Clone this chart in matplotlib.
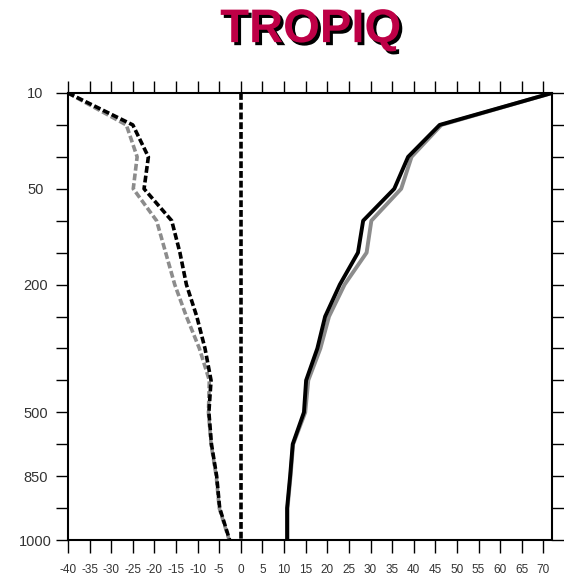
import matplotlib
matplotlib.use("Agg")
import matplotlib.pyplot as plt
import matplotlib.patheffects as pe

plt.rcParams['font.family'] = ['Liberation Sans', 'DejaVu Sans']

# pressure levels (hPa), plotted on an index axis from top to bottom
levels = [10, 20, 30, 50, 70, 100, 200, 250, 300, 400, 500, 700, 850, 925, 1000]
labeled_levels = [10, 50, 200, 500, 850, 1000]

dash_black = [-40, -25.0, -21.4, -22.4, -16.0, -14.1, -12.6, -10.2, -8.3, -6.9, -7.4, -6.8, -5.6, -4.9, -2.6]
dash_gray = [-40, -26.5, -24.0, -24.9, -19.5, -17.4, -15.3, -12.6, -9.6, -7.3, -7.5, -6.9, -5.7, -5.0, -2.7]
solid_black = [72, 46.0, 38.7, 35.5, 28.3, 27.1, 22.9, 19.5, 17.7, 15.1, 14.6, 12.0, 11.4, 10.7, 10.7]
solid_gray = [72, 46.4, 39.5, 37.1, 30.2, 29.1, 24.0, 20.4, 18.4, 15.6, 14.9, 12.1, 11.5, 10.8, 10.8]
zero_line = [0] * len(levels)

xticks = list(range(-40, 71, 5))

fig = plt.figure(figsize=(5.64, 5.77), dpi=100)
ax = fig.add_axes([68 / 564, 37 / 577, 484 / 564, 447 / 577])

idx = list(range(len(levels)))
dash = (1.9, 0.8)
ax.plot(dash_gray, idx, color='#8c8c8c', lw=2.6, dashes=dash)
ax.plot(dash_black, idx, color='black', lw=2.6, dashes=dash)
ax.plot(zero_line, idx, color='black', lw=2.6, dashes=dash)
ax.plot(solid_gray, idx, color='#8c8c8c', lw=2.8)
ax.plot(solid_black, idx, color='black', lw=2.8)

ax.set_xlim(-40, 72)
ax.set_ylim(len(levels) - 1, 0)

ax.set_xticks(xticks)
ax.set_xticklabels([str(v) for v in xticks])
ax.set_yticks(idx)
ax.set_yticklabels([str(p) if p in labeled_levels else '' for p in levels])

for s in ax.spines.values():
    s.set_linewidth(1.5)
ax.tick_params(direction='out', length=9, width=1.0, top=True, right=True,
               labeltop=False, labelright=False)
ax.tick_params(axis='x', labelsize=8.5, pad=8, labelcolor='#333333')
ax.tick_params(axis='y', labelsize=10.5, pad=14.4, labelcolor='#333333')
for lbl in ax.get_yticklabels():
    lbl.set_horizontalalignment('center')

fig.text(0.551, 0.927, 'TROPIQ', ha='center', va='baseline', fontsize=34,
         fontweight='bold', color='#be0046',
         path_effects=[pe.withSimplePatchShadow(offset=(2.2, -2.2), shadow_rgbFace='black', alpha=1.0)])

fig.savefig('out.png', dpi=100)
